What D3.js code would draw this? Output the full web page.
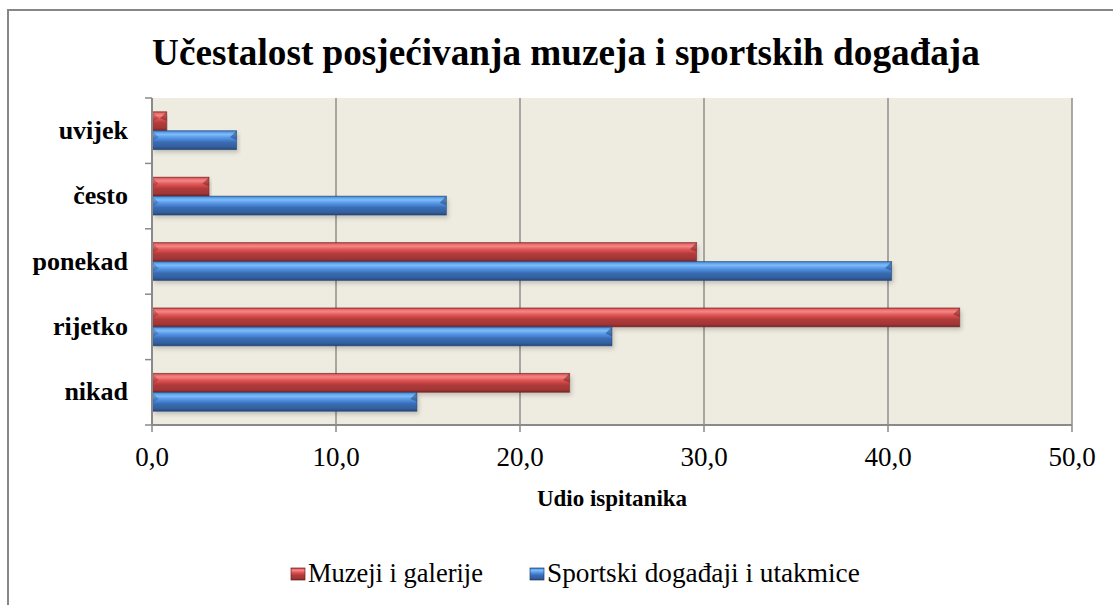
<!DOCTYPE html>
<html><head><meta charset="utf-8">
<script src="https://cdn.jsdelivr.net/npm/d3@7"></script>
<style>body{margin:0;background:#fff}svg{display:block}</style>
</head><body>
<svg id="c" width="1113" height="605"></svg>
<script>
const categories = ["uvijek","često","ponekad","rijetko","nikad"];
const seriesNames = ["Muzeji i galerije","Sportski događaji i utakmice"];
const muzeji = [0.8, 3.1, 29.6, 43.9, 22.7];
const sport = [4.6, 16.0, 40.2, 25.0, 14.4];
const xTicks = [0,10,20,30,40,50];
const title = "Učestalost posjećivanja muzeja i sportskih događaja";
const xTitle = "Udio ispitanika";

const svg = d3.select("#c");
const L = 152, R = 1072, T = 98, B = 425;
const FF = "'Liberation Serif'";

svg.append("rect").attr("x",8).attr("y",10).attr("width",1120).attr("height",610)
  .attr("fill","#fff").attr("stroke","#878787").attr("stroke-width",2);

const defs = svg.append("defs");
function grad(id, stops){
  const g = defs.append("linearGradient").attr("id",id).attr("x1",0).attr("y1",0).attr("x2",0).attr("y2",1);
  stops.forEach(s=>g.append("stop").attr("offset",s[0]).attr("stop-color",s[1]));
}
grad("gR",[[0,"#a83434"],[0.08,"#e86a6a"],[0.2,"#f58585"],[0.35,"#e25a5a"],[0.5,"#c94444"],[0.6,"#b03b3b"],[0.85,"#a33636"],[1,"#7a2525"]]);
grad("gB",[[0,"#336cb8"],[0.08,"#5c9ee8"],[0.2,"#7ebcf8"],[0.35,"#5a9be8"],[0.5,"#4580d0"],[0.6,"#3a6db4"],[0.85,"#335f9e"],[1,"#264778"]]);
const f = defs.append("filter").attr("id","sh").attr("x","-5%").attr("y","-20%").attr("width","110%").attr("height","160%");
f.append("feDropShadow").attr("dx",2).attr("dy",3).attr("stdDeviation",2).attr("flood-color","#000").attr("flood-opacity",0.18);

svg.append("rect").attr("x",L).attr("y",T).attr("width",R-L).attr("height",B-T).attr("fill","#eeebe0");

const x = d3.scaleLinear().domain([0,50]).range([L,R]);
const y = d3.scaleBand().domain(categories).range([T,B]).paddingInner(0.42).paddingOuter(0.21);
const ys = d3.scaleBand().domain(seriesNames).range([0,y.bandwidth()]);

svg.append("g").selectAll("line").data(xTicks.slice(1)).join("line")
  .attr("x1",d=>x(d)).attr("x2",d=>x(d)).attr("y1",T).attr("y2",B)
  .attr("stroke","#8e8e8e").attr("stroke-width",1.5);

const data = [];
categories.forEach((c,i)=>{
  data.push({c, s:seriesNames[0], v:muzeji[i], g:"gR", dark:"#6e1f1f"});
  data.push({c, s:seriesNames[1], v:sport[i], g:"gB", dark:"#1f3f70"});
});
const bars = svg.append("g");
data.forEach(d=>{
  const x0 = x(0), x1 = x(d.v), y0 = y(d.c)+ys(d.s), h = ys.bandwidth();
  const g = bars.append("g");
  g.append("rect").attr("x",x0).attr("y",y0).attr("width",x1-x0).attr("height",h)
    .attr("fill",`url(#${d.g})`).attr("filter","url(#sh)");
  const b = Math.min(h*0.35,(x1-x0)/2);
  g.append("polygon").attr("points",`${x0},${y0} ${x0+b},${y0+b} ${x0},${y0+b*1.6}`).attr("fill",d.dark).attr("opacity",0.3);
  g.append("polygon").attr("points",`${x1},${y0} ${x1-b},${y0+b} ${x1},${y0+b*1.4}`).attr("fill",d.dark).attr("opacity",0.5);
  g.append("rect").attr("x",x0).attr("y",y0).attr("width",x1-x0).attr("height",h)
    .attr("fill","none").attr("stroke",d.dark).attr("stroke-width",0.8).attr("opacity",0.6);
});

const axisColor = "#8a8a8a";
svg.append("line").attr("x1",L).attr("x2",L).attr("y1",T).attr("y2",B).attr("stroke",axisColor).attr("stroke-width",2);
svg.append("line").attr("x1",L).attr("x2",R).attr("y1",B).attr("y2",B).attr("stroke",axisColor).attr("stroke-width",2);
const bandEdges = d3.range(categories.length+1).map(i=>T + i*(B-T)/categories.length);
svg.append("g").selectAll("line").data(bandEdges).join("line")
  .attr("x1",L-7).attr("x2",L).attr("y1",d=>d).attr("y2",d=>d).attr("stroke",axisColor).attr("stroke-width",1.5);
svg.append("g").selectAll("line").data(xTicks).join("line")
  .attr("x1",d=>x(d)).attr("x2",d=>x(d)).attr("y1",B).attr("y2",B+7).attr("stroke",axisColor).attr("stroke-width",1.5);

function txt(sel, size, bold){
  return sel.style("font-family",FF,"important").style("font-size",size+"px").style("font-weight",bold?"bold":"normal").style("fill","#000");
}
function fit(sel, w){ const cur = sel.node().getComputedTextLength(); const fs = parseFloat(sel.style("font-size")); sel.style("font-size", (fs*w/cur)+"px"); }

const fmt = d=>d3.format(".1f")(d).replace(".",",");
txt(svg.append("g").selectAll("text").data(xTicks).join("text")
  .attr("x",d=>x(d)).attr("y",466).attr("text-anchor","middle").text(fmt), 27, false);

const bandCenter = c => T + (categories.indexOf(c)+0.5)*(B-T)/categories.length;
txt(svg.append("g").selectAll("text").data(categories).join("text")
  .attr("x",128).attr("y",d=>bandCenter(d)+8).attr("text-anchor","end").text(d=>d), 26, true);

txt(svg.append("text").attr("x",612).attr("y",506).attr("text-anchor","middle").text(xTitle), 23, true);

const tt = txt(svg.append("text").attr("x",566).attr("y",65).attr("text-anchor","middle").text(title), 38, true);
fit(tt, 828);

const leg = [{n:seriesNames[0],g:"gR",x:291,w:175},{n:seriesNames[1],g:"gB",x:530,w:313}];
leg.forEach(l=>{
  svg.append("rect").attr("x",l.x).attr("y",568).attr("width",14).attr("height",12).attr("fill",`url(#${l.g})`)
    .attr("stroke", l.g==="gR"?"#6e1f1f":"#1f3f70").attr("stroke-width",0.7);
  const t = txt(svg.append("text").attr("x",l.x+17).attr("y",582).text(l.n), 26.5, false);
  fit(t, l.w);
});
</script>
</body></html>
